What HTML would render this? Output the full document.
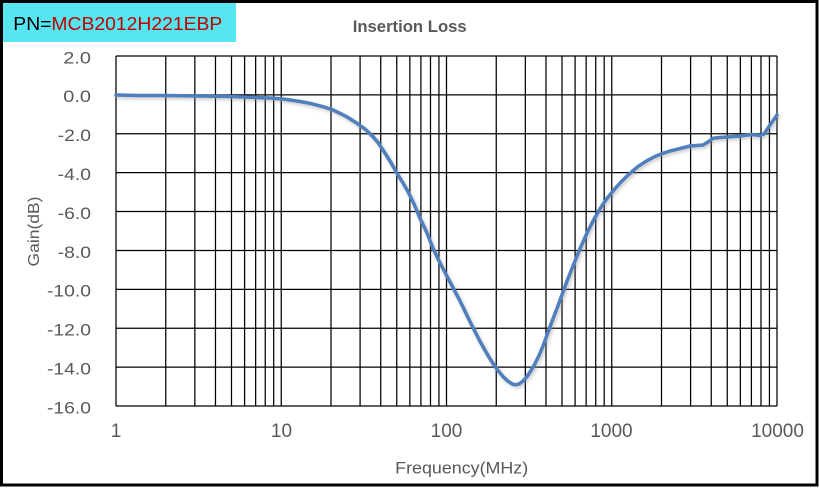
<!DOCTYPE html>
<html><head><meta charset="utf-8"><style>
html,body{margin:0;padding:0;background:#fff;}
svg{display:block;}
</style></head><body>
<svg width="819" height="489" viewBox="0 0 819 489" xmlns="http://www.w3.org/2000/svg">
<defs>
<filter id="sh" x="-5%" y="-5%" width="110%" height="110%"><feGaussianBlur stdDeviation="1.5"/></filter>
</defs>
<rect x="0" y="0" width="819" height="489" fill="#fff"/>
<!-- PN box -->
<rect x="3" y="3" width="233" height="39" fill="#57e5ef"/>
<text x="13.3" y="30" font-family="Liberation Sans, sans-serif" font-size="18.5" textLength="209" lengthAdjust="spacingAndGlyphs"><tspan fill="#000">PN=</tspan><tspan fill="#c00000">MCB2012H221EBP</tspan></text>
<!-- Title -->
<text x="352.7" y="32" font-family="Liberation Sans, sans-serif" font-size="17" font-weight="bold" fill="#595959" textLength="114" lengthAdjust="spacingAndGlyphs">Insertion Loss</text>
<!-- grid -->
<g stroke="#000" stroke-width="1.25" fill="none">
<path d="M116 56V406M165.75 56V406M194.84 56V406M215.49 56V406M231.5 56V406M244.59 56V406M255.65 56V406M265.24 56V406M273.69 56V406
M281.25 56V406M331 56V406M360.09 56V406M380.74 56V406M396.75 56V406M409.84 56V406M420.9 56V406M430.49 56V406M438.94 56V406
M446.5 56V406M496.25 56V406M525.34 56V406M545.99 56V406M562 56V406M575.09 56V406M586.15 56V406M595.74 56V406M604.19 56V406
M611.75 56V406M661.5 56V406M690.59 56V406M711.24 56V406M727.25 56V406M740.34 56V406M751.4 56V406M760.99 56V406M769.44 56V406M777 56V406"/>
<path d="M116 56H777M116 94.89H777M116 133.78H777M116 172.67H777M116 211.56H777M116 250.44H777M116 289.33H777M116 328.22H777M116 367.11H777M116 406H777"/>
</g>
<!-- y labels -->
<g font-family="Liberation Sans, sans-serif" font-size="17" fill="#595959" text-anchor="end">
<text x="91" y="63.3" textLength="27.7" lengthAdjust="spacingAndGlyphs">2.0</text>
<text x="91" y="102.2" textLength="27.7" lengthAdjust="spacingAndGlyphs">0.0</text>
<text x="91" y="141.1" textLength="33.3" lengthAdjust="spacingAndGlyphs">-2.0</text>
<text x="91" y="180" textLength="33.3" lengthAdjust="spacingAndGlyphs">-4.0</text>
<text x="91" y="218.9" textLength="33.3" lengthAdjust="spacingAndGlyphs">-6.0</text>
<text x="91" y="257.8" textLength="33.3" lengthAdjust="spacingAndGlyphs">-8.0</text>
<text x="91" y="296.6" textLength="44" lengthAdjust="spacingAndGlyphs">-10.0</text>
<text x="91" y="335.5" textLength="44" lengthAdjust="spacingAndGlyphs">-12.0</text>
<text x="91" y="374.4" textLength="44" lengthAdjust="spacingAndGlyphs">-14.0</text>
<text x="91" y="413.3" textLength="44" lengthAdjust="spacingAndGlyphs">-16.0</text>
</g>
<!-- x labels -->
<g font-family="Liberation Sans, sans-serif" font-size="19" fill="#595959" text-anchor="middle">
<text x="116" y="437">1</text>
<text x="281.5" y="437">10</text>
<text x="446.5" y="437">100</text>
<text x="611.5" y="437">1000</text>
<text x="777.5" y="437">10000</text>
</g>
<!-- axis titles -->
<text x="461.7" y="473.3" font-family="Liberation Sans, sans-serif" font-size="17" fill="#595959" text-anchor="middle" textLength="133" lengthAdjust="spacingAndGlyphs">Frequency(MHz)</text>
<text transform="translate(39,231.5) rotate(-90)" x="0" y="0" font-family="Liberation Sans, sans-serif" font-size="16" fill="#595959" text-anchor="middle" textLength="70" lengthAdjust="spacingAndGlyphs">Gain(dB)</text>
<!-- curve -->
<g fill="none" stroke-linejoin="round" stroke-linecap="round">
<polyline filter="url(#sh)" transform="translate(1.5,2)" stroke="#8a8a8a" stroke-opacity="0.45" stroke-width="3.5" points="116,95 140,95.5 165,95.5 200,96 230,96.5 255,97.5 270,98 283,99 290,100 300,101.5 310,103.3 323,106.7 332,109.5 340,113.3 348,117.5 357,123.3 365,129 373,136.7 378,142.5 383,150 390,161 397,173.3 403,183 408,191.7 414,204 420,218.3 427,233 433,248.3 439,261 445,272.5 450,282 455,291.5 460,301 465,311.3 470,321.6 475,331.6 480,341.3 485,350.4 490,358.8 495,366.4 500,373 504,377.6 508,381.2 512,383.8 515,384.8 519,384 523,381 527,376.5 531,370.5 535,363.5 539,355.5 543,346 547,335 551,324 555,313.5 559,303 563,292 567,281 571,271 575,261 579,251 583,242 587,233 591,225 595,217.5 599,210.5 603,204 607,198.5 611,193.5 616,187.5 621,182 626,177 631,172.5 638,166.5 647,160.7 655,156.5 663,153.3 670,151 677,149.3 684,147.5 690,146 697,145.5 703,145 708,142 713,138.3 720,137.5 730,136.7 740,136 752,134.5 760,135.5 764,134 770,125 777,115"/>
<polyline stroke="#4f7fbd" stroke-width="3.5" points="116,95 140,95.5 165,95.5 200,96 230,96.5 255,97.5 270,98 283,99 290,100 300,101.5 310,103.3 323,106.7 332,109.5 340,113.3 348,117.5 357,123.3 365,129 373,136.7 378,142.5 383,150 390,161 397,173.3 403,183 408,191.7 414,204 420,218.3 427,233 433,248.3 439,261 445,272.5 450,282 455,291.5 460,301 465,311.3 470,321.6 475,331.6 480,341.3 485,350.4 490,358.8 495,366.4 500,373 504,377.6 508,381.2 512,383.8 515,384.8 519,384 523,381 527,376.5 531,370.5 535,363.5 539,355.5 543,346 547,335 551,324 555,313.5 559,303 563,292 567,281 571,271 575,261 579,251 583,242 587,233 591,225 595,217.5 599,210.5 603,204 607,198.5 611,193.5 616,187.5 621,182 626,177 631,172.5 638,166.5 647,160.7 655,156.5 663,153.3 670,151 677,149.3 684,147.5 690,146 697,145.5 703,145 708,142 713,138.3 720,137.5 730,136.7 740,136 752,134.5 760,135.5 764,134 770,125 777,115"/>
</g>
<!-- outer frame -->
<rect x="1.5" y="1.5" width="815.5" height="483.5" fill="none" stroke="#000" stroke-width="3"/>
</svg>
</body></html>
